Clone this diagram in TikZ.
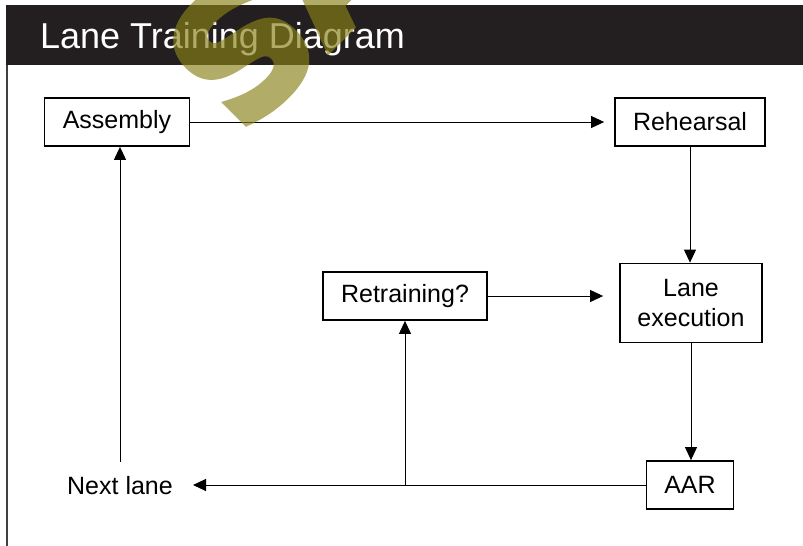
\documentclass[tikz,border=0pt]{standalone}
\usepackage{fontspec}
\setmainfont{Liberation Sans}
\newfontfamily\stampfont{DejaVu Sans Bold}[FakeBold=4]
\usetikzlibrary{arrows.meta,calc}
\definecolor{barblack}{RGB}{35,31,32}
\definecolor{stampolive}{RGB}{136,129,24}
\definecolor{edgegray}{RGB}{64,64,64}
\tikzset{
  stage/.style={draw=black, line width=1.8pt, fill=white, inner sep=0pt, align=center,
    font=\fontsize{25}{30}\selectfont},
  flow/.style={line width=1pt, -{Triangle[length=13pt,width=12pt]}},
}

\begin{document}
\begin{tikzpicture}[x=1pt,y=-1pt]
        \useasboundingbox (0,0) rectangle (803,546);
        \fill[barblack] (6,5) rectangle (803,65);
        \draw[edgegray, line width=2pt] (7,65) -- (7,546);
        \node[anchor=base west, text=white, inner sep=0pt,
          font=\fontsize{36}{40}\selectfont] (title) at (40,48) {Lane Training Diagram};

        \node[stage, minimum width=145pt, minimum height=48pt] (asm) at (117,122) {Assembly};
        \node[stage, minimum width=150pt, minimum height=48pt] (reh) at (690,122) {Rehearsal};
        \node[stage, minimum width=142pt, minimum height=79pt] (exe) at (691,303) {Lane\\execution};
        \node[stage, minimum width=164pt, minimum height=48pt] (ret) at (405,296) {Retraining?};
        \node[stage, minimum width=87pt, minimum height=48pt] (aar) at (690,485) {AAR};
        \node[inner sep=0pt, font=\fontsize{25}{30}\selectfont] (nxt) at (120,486) {Next lane};

        \draw[flow, shorten >=10pt] (asm.east) -- (reh.west);
        \draw[flow] (reh.south) -- (reh.south |- exe.north);
        \draw[flow, shorten >=16pt] (ret.east) -- (ret.east -| exe.west);
        \draw[flow] (exe.south) -- (exe.south |- aar.north);
        \draw[flow, shorten >=20pt] (aar.west) -- (aar.west -| nxt.east);
        \draw[flow, shorten <=15pt] (nxt.north) -- (nxt.north |- asm.south);
        \coordinate (split) at (ret.south |- aar.west);
        \draw[flow] (split) -- (ret.south);

        \begin{scope}[transparency group, opacity=0.66]
          \clip (0,0) rectangle (803,546);
          \node[rotate=45, anchor=west, text=stampolive, inner sep=0pt,
            font=\stampfont\fontsize{170}{170}\selectfont] (stamp) at (198,93) {SAMPLE};
        \end{scope}
\end{tikzpicture}
\end{document}
